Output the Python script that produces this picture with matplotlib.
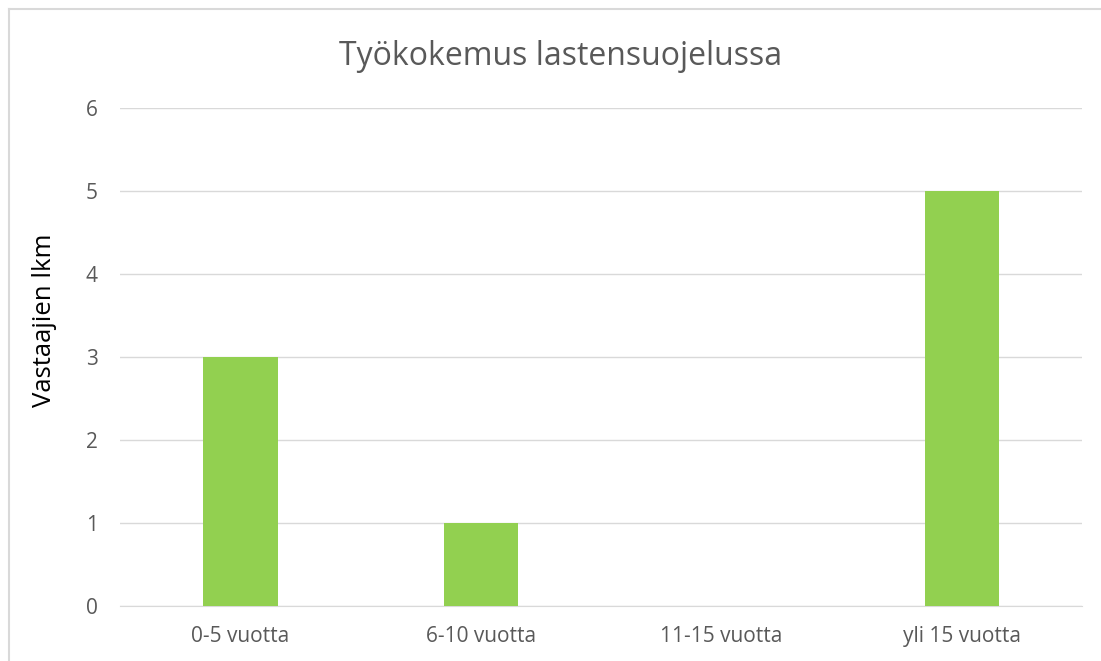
import matplotlib.pyplot as plt
from matplotlib.lines import Line2D

# Tiedot
luokat = ['0-5 vuotta', '6-10 vuotta', '11-15 vuotta', 'yli 15 vuotta']
vastaajat = [3, 1, 0, 5]
y_tikit = [0, 1, 2, 3, 4, 5, 6]

plt.rcParams['font.family'] = ['Open Sans', 'DejaVu Sans']

fig = plt.figure(figsize=(11.01, 6.61), dpi=100)
ax = fig.add_axes([0.109, 0.0832, 0.874, 0.7534])

x = range(len(luokat))
ax.bar(x, vastaajat, width=0.31, color='#92D050', zorder=3)

ax.set_xlim(-0.5, len(luokat) - 0.5)
ax.set_ylim(0, 6)
ax.set_yticks(y_tikit)
ax.set_xticks(list(x))
ax.set_xticklabels(luokat)
ax.tick_params(axis='both', length=0, labelsize=15, colors='#595959')
ax.tick_params(axis='y', pad=16)
ax.tick_params(axis='x', pad=14.5)

ax.grid(axis='y', color='#D9D9D9', linewidth=1, zorder=0)
for s in ['top', 'right', 'left']:
    ax.spines[s].set_visible(False)
ax.spines['bottom'].set_color('#D9D9D9')

ax.set_ylabel('Vastaajien lkm', fontsize=18.5, color='black')
ax.yaxis.set_label_coords(-0.0655, 0.574)

fig.text(0.509, 0.914, 'Työkokemus lastensuojelussa', ha='center', va='center',
         fontsize=23, color='#595959')

# Kehys (vain vasen ja yläreuna näkyvissä)
fig.add_artist(Line2D([9 / 1101, 9 / 1101], [0, 1 - 9 / 661], transform=fig.transFigure,
                      color='#D9D9D9', linewidth=1.5))
fig.add_artist(Line2D([9 / 1101, 1], [1 - 9 / 661, 1 - 9 / 661], transform=fig.transFigure,
                      color='#D9D9D9', linewidth=1.5))

plt.savefig('out.png', dpi=100)
